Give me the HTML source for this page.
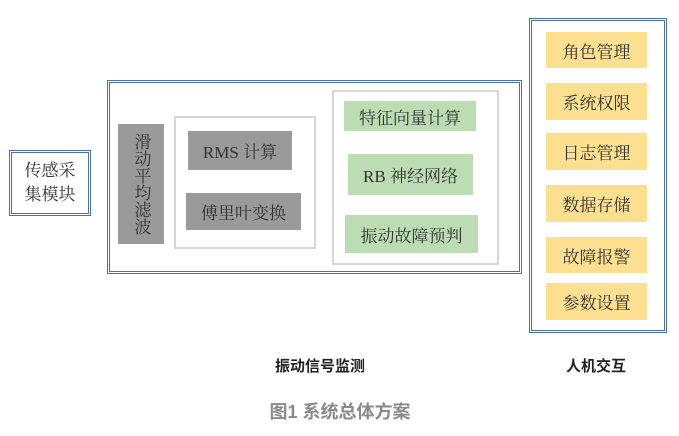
<!DOCTYPE html>
<html><head><meta charset="utf-8"><style>
body{margin:0;width:679px;height:436px;background:#fff;position:relative;overflow:hidden;font-family:"Liberation Serif","Noto Serif CJK SC",serif;}
div{position:absolute;box-sizing:border-box;}
.c{display:flex;align-items:center;justify-content:center;color:#333;font-size:17px;}
.blue{border:3px double #4a6fb0;}
.gray{border:2px solid #d6d6d6;}
.g{background:#9a9a9b;}
.gr{background:#bcdcb4;}
.y{background:#fde08f;}
.b{font-family:"Liberation Sans","Noto Sans CJK SC",sans-serif;font-weight:bold;color:#222;font-size:15px;}
</style></head><body>
<div class="blue c" style="left:9px;top:150px;width:82px;height:66px;flex-direction:column;font-size:17px;line-height:24px;">传感采<br>集模块</div>
<div class="blue" style="left:107px;top:80px;width:415px;height:194px;"></div>
<div class="g c" style="left:118px;top:124px;width:46px;height:120px;writing-mode:vertical-rl;font-size:17px;line-height:1;">滑动平均滤波</div>
<div class="gray" style="left:174px;top:116px;width:142px;height:133px;"></div>
<div class="g c" style="left:188px;top:131px;width:104px;height:39px;">RMS 计算</div>
<div class="g c" style="left:186px;top:193px;width:115px;height:37px;">傅里叶变换</div>
<div class="gray" style="left:332px;top:90px;width:167px;height:175px;"></div>
<div class="gr c" style="left:344px;top:101px;width:132px;height:30px;">特征向量计算</div>
<div class="gr c" style="left:348px;top:154px;width:125px;height:41px;">RB 神经网络</div>
<div class="gr c" style="left:345px;top:215px;width:133px;height:38px;">振动故障预判</div>
<div class="blue" style="left:529px;top:18px;width:138px;height:315px;"></div>
<div class="y c" style="left:546px;top:32px;width:101px;height:36px;">角色管理</div>
<div class="y c" style="left:546px;top:83px;width:101px;height:37px;">系统权限</div>
<div class="y c" style="left:546px;top:133px;width:101px;height:37px;">日志管理</div>
<div class="y c" style="left:546px;top:185px;width:101px;height:37px;">数据存储</div>
<div class="y c" style="left:546px;top:237px;width:101px;height:36px;">故障报警</div>
<div class="y c" style="left:546px;top:283px;width:101px;height:37px;">参数设置</div>
<div class="b" style="left:250px;top:355px;width:140px;text-align:center;">振动信号监测</div>
<div class="b" style="left:546px;top:355px;width:100px;text-align:center;">人机交互</div>
<div style="left:240px;top:398px;width:200px;text-align:center;font-family:'Liberation Sans','Noto Sans CJK SC',sans-serif;font-weight:bold;font-size:18px;color:#8a8a8a;">图1 系统总体方案</div>
</body></html>
